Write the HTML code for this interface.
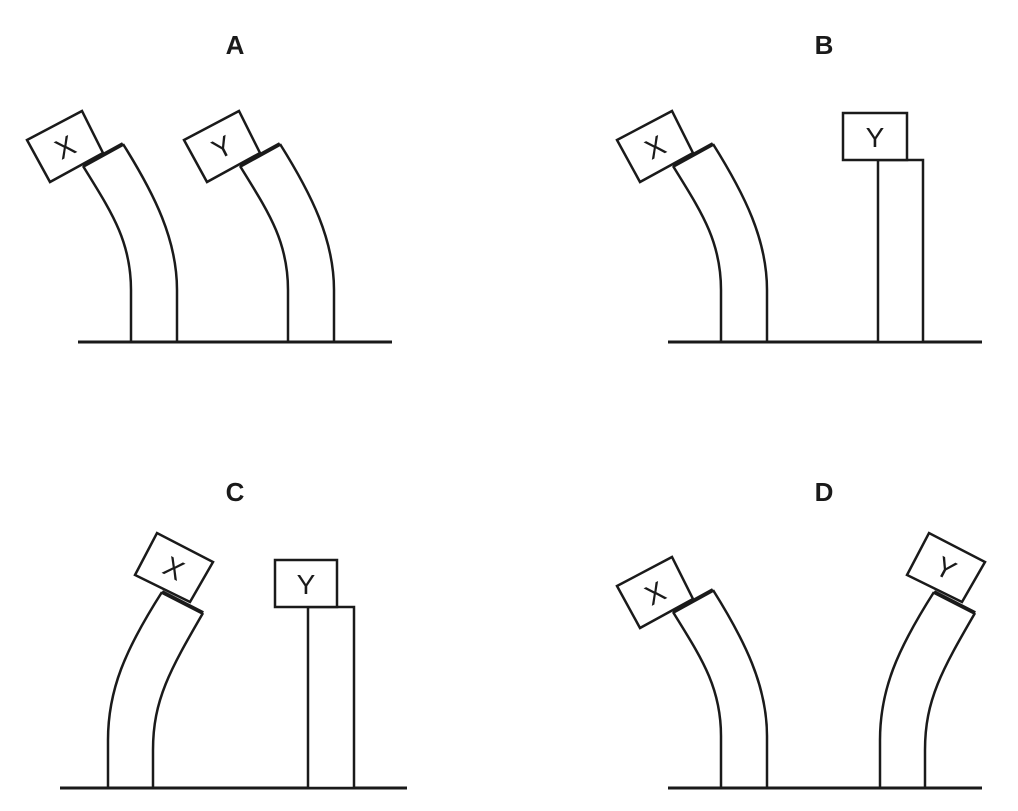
<!DOCTYPE html>
<html><head><style>body{margin:0;background:#fff}svg{display:block}</style></head>
<body>
<svg width="1018" height="811" viewBox="0 0 1018 811" xmlns="http://www.w3.org/2000/svg">
<defs>
<g id="lx">
<path d="M83,166 C110,210 131,240 131,290 L131,342 M123,144 C155,195 177,240 177,290 L177,342 M83,166 L123,144" fill="none" stroke="#1a1a1a" stroke-width="2.5"/>
<polygon points="27,140 82,111 103,153 50,182" fill="#fff" stroke="#1a1a1a" stroke-width="2.5"/>
<line x1="83" y1="166" x2="123" y2="144" stroke="#1a1a1a" stroke-width="4"/>
</g>
<g id="cx">
<path d="M162,592 C125,650 108,690 108,740 L108,788 M203,613 C170,670 153,700 153,750 L153,788 M162,592 L203,613" fill="none" stroke="#1a1a1a" stroke-width="2.5"/>
<polygon points="135,575 157,533 213,562 190,602" fill="#fff" stroke="#1a1a1a" stroke-width="2.5"/>
<line x1="162" y1="592" x2="203" y2="613" stroke="#1a1a1a" stroke-width="4"/>
</g>
</defs>
<g font-family="Liberation Sans, sans-serif" font-weight="bold" font-size="26" fill="#1a1a1a" text-anchor="middle">
<text x="235" y="54">A</text><text x="824" y="54">B</text>
<text x="235" y="501">C</text><text x="824" y="501">D</text>
</g>
<g stroke="#1a1a1a" stroke-width="3">
<line x1="78" y1="342" x2="392" y2="342"/><line x1="668" y1="342" x2="982" y2="342"/>
<line x1="60" y1="788" x2="407" y2="788"/><line x1="668" y1="788" x2="982" y2="788"/>
</g>
<g font-family="Liberation Sans, sans-serif" font-size="28" fill="#1a1a1a" text-anchor="middle">
<!-- A -->
<use href="#lx"/><text x="0" y="0" transform="translate(65,147) rotate(-27)" dy="10">X</text>
<g transform="translate(157,0)"><use href="#lx"/><text transform="translate(65,147) rotate(-27)" dy="10">Y</text></g>
<!-- B -->
<g transform="translate(590,0)"><use href="#lx"/><text transform="translate(65,147) rotate(-27)" dy="10">X</text></g>
<rect x="878" y="160" width="45" height="182" fill="#fff" stroke="#1a1a1a" stroke-width="2.5"/>
<rect x="843" y="113" width="64" height="47" fill="#fff" stroke="#1a1a1a" stroke-width="2.5"/>
<text x="875" y="147">Y</text>
<!-- C -->
<use href="#cx"/><text transform="translate(174,568) rotate(28)" dy="10">X</text>
<rect x="308" y="607" width="46" height="181" fill="#fff" stroke="#1a1a1a" stroke-width="2.5"/>
<rect x="275" y="560" width="62" height="47" fill="#fff" stroke="#1a1a1a" stroke-width="2.5"/>
<text x="306" y="594">Y</text>
<!-- D -->
<g transform="translate(590,446)"><use href="#lx"/><text transform="translate(65,147) rotate(-27)" dy="10">X</text></g>
<g transform="translate(772,0)"><use href="#cx"/><text transform="translate(174,568) rotate(28)" dy="10">Y</text></g>
</g>
</svg>
</body></html>
